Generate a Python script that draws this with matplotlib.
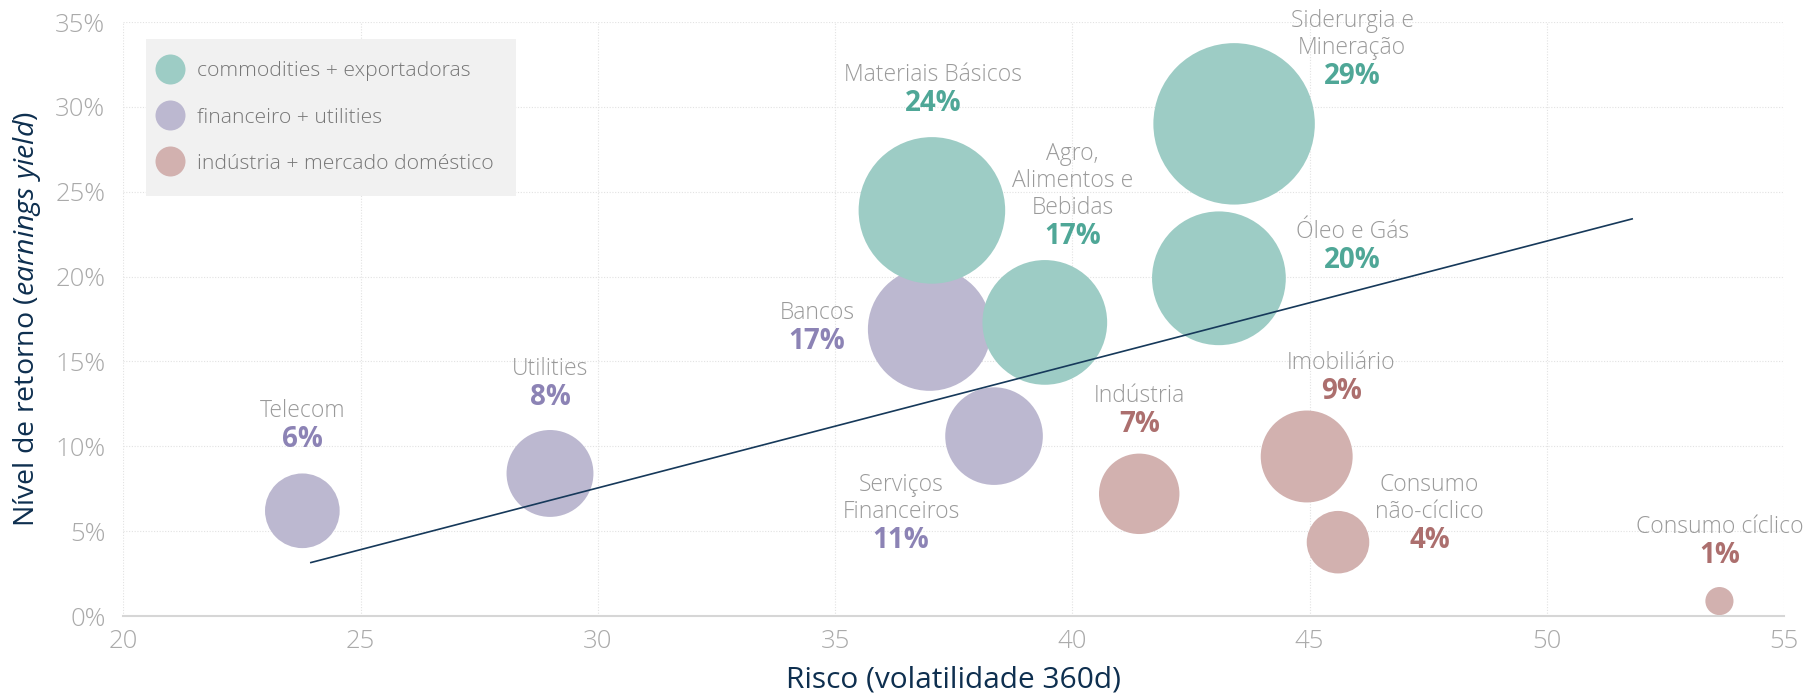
import numpy as np
import matplotlib
matplotlib.use("Agg")
import matplotlib.pyplot as plt
from matplotlib.lines import Line2D

plt.rcParams["font.family"] = ["Open Sans", "DejaVu Sans"]
plt.rcParams["mathtext.fontset"] = "custom"
plt.rcParams["mathtext.rm"] = "Open Sans"
plt.rcParams["mathtext.it"] = "Open Sans:italic"

# data
sectors = ["Telecom", "Utilities", "Bancos", "Serviços\nFinanceiros",
           "Materiais Básicos", "Agro,\nAlimentos e\nBebidas", "Siderurgia e\nMineração",
           "Óleo e Gás", "Indústria", "Imobiliário", "Consumo\nnão-cíclico", "Consumo cíclico"]
risk = [23.77, 28.99, 36.99, 38.35, 37.04, 39.42, 43.41, 43.09, 41.41, 44.94, 45.60, 53.64]
earn_yield = [6.2, 8.4, 16.9, 10.6, 23.9, 17.3, 29.0, 19.9, 7.2, 9.4, 4.35, 0.88]
group = ["fin", "fin", "fin", "fin", "com", "com", "com", "com", "ind", "ind", "ind", "ind"]

trend_x = [23.95, 51.8]
trend_y = [3.15, 23.4]

group_names = {"com": "commodities + exportadoras",
               "fin": "financeiro + utilities",
               "ind": "indústria + mercado doméstico"}
bubble_col = {"com": "#9dccc5", "fin": "#bcb8d0", "ind": "#d2b1af"}
pct_col = {"com": "#4fa797", "fin": "#8c83b5", "ind": "#ac6f6e"}

# label placement: offset (points) of the percent text centre from the bubble centre
label_off = [(0, 51), (0, 55), (-81, -9), (-67, -75), (1, 77), (20, 62),
             (85, 34), (96, 13), (0, 50), (25, 47), (66, 1), (0, 33)]

fig = plt.figure(figsize=(18.08, 6.97), dpi=100)
ax = fig.add_axes([0.0683, 0.1162, 0.9184, 0.8522])

bubble_scale = 466.0
for g in ["fin", "com", "ind"]:
    idx = [i for i, gg in enumerate(group) if gg == g]
    ax.scatter([risk[i] for i in idx], [earn_yield[i] for i in idx],
               s=[bubble_scale * earn_yield[i] for i in idx],
               color=bubble_col[g], linewidths=0, zorder=2)

ax.plot(trend_x, trend_y, color="#16395a", lw=1.2, zorder=3)

for i, name in enumerate(sectors):
    dx, dy = label_off[i]
    ax.annotate(f"{round(earn_yield[i])}%", (risk[i], earn_yield[i]),
                xytext=(dx, dy), textcoords="offset points",
                ha="center", va="center", fontsize=20, fontweight="bold",
                color=pct_col[group[i]], zorder=4)
    lines = name.split("\n")
    for k, line in enumerate(reversed(lines)):
        ax.annotate(line, (risk[i], earn_yield[i]),
                    xytext=(dx, dy + 20.5 + 19.5 * k), textcoords="offset points",
                    ha="center", va="center", fontsize=16.5, fontweight=300,
                    color="#9a9a9a", zorder=4)

ax.set_xlim(20, 55)
ax.set_ylim(0, 35)
ax.set_xticks(np.arange(20, 56, 5))
ax.set_yticks(np.arange(0, 36, 5))
ax.set_yticklabels([f"{v}%" for v in range(0, 36, 5)])
ax.tick_params(length=0, labelsize=18.5, labelcolor="#aaaaaa")
ax.tick_params(axis="y", pad=13)
ax.tick_params(axis="x", pad=9)
for lab in ax.get_xticklabels() + ax.get_yticklabels():
    lab.set_fontweight(300)

ax.grid(True, ls=(0, (1, 1.5)), color="#e2e2e2", lw=0.8, zorder=0)
ax.set_axisbelow(True)
for side in ["top", "right", "left"]:
    ax.spines[side].set_visible(False)
ax.spines["bottom"].set_color("#d6d6d6")
ax.spines["bottom"].set_linewidth(1.5)

ax.set_xlabel("Risco (volatilidade 360d)", fontsize=21.5, color="#0e2f4f")
ax.set_ylabel(r"Nível de retorno ($\mathit{earnings\ yield}$)", fontsize=20.5,
              color="#0e2f4f")
ax.xaxis.set_label_coords(0.5, -0.084)
ax.yaxis.set_label_coords(-0.0484, 0.5)

handles = [Line2D([], [], marker="o", ls="", markersize=21.6, markeredgewidth=0,
                  color=bubble_col[g], label=group_names[g]) for g in ["com", "fin", "ind"]]
leg = ax.legend(handles=handles, loc="upper left", bbox_to_anchor=(0.0136, 0.971),
                frameon=True, fancybox=False, facecolor="#f1f1f1", edgecolor="none",
                framealpha=1, fontsize=15.2, labelspacing=1.24, handlelength=0.15,
                handletextpad=1.2, borderpad=1.05, borderaxespad=0)
for t in leg.get_texts():
    t.set_color("#777777")
    t.set_fontweight(300)

fig.savefig("out.png", dpi=100)
